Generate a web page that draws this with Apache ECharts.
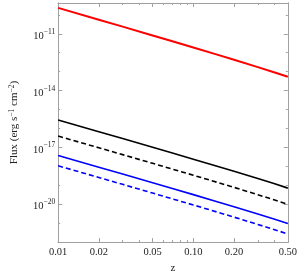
<!DOCTYPE html>
<html>
<head>
<meta charset="utf-8">
<script src="https://cdn.jsdelivr.net/npm/echarts@6/dist/echarts.min.js"></script>
<style>
html,body{margin:0;padding:0;background:#fff;}
#c{width:300px;height:279px;}
</style>
</head>
<body>
<div id="c"></div>
<script>
// Redshift sample points
const z = [0.01, 0.02, 0.03, 0.05, 0.07, 0.1, 0.15, 0.2, 0.3, 0.4, 0.5];
// Flux (erg s^-1 cm^-2)
const fluxRed = [2.34e-10, 5.55e-11, 2.38e-11, 8.17e-12, 4.02e-12, 1.89e-12, 7.94e-13, 4.25e-13, 1.73e-13, 9.04e-14, 5.37e-14];
const fluxBlack = [2.82e-16, 6.78e-17, 2.94e-17, 1.02e-17, 5.06e-18, 2.40e-18, 1.02e-18, 5.48e-19, 2.26e-19, 1.19e-19, 7.08e-20];
const fluxBlackDashed = [3.98e-17, 9.57e-18, 4.15e-18, 1.44e-18, 7.14e-19, 3.40e-19, 1.44e-19, 7.74e-20, 3.19e-20, 1.67e-20, 1.00e-20];
const fluxBlue = [3.72e-18, 8.97e-19, 3.90e-19, 1.36e-19, 6.75e-20, 3.21e-20, 1.36e-20, 7.36e-21, 3.04e-21, 1.60e-21, 9.55e-22];
const fluxBlueDashed = [1.07e-18, 2.58e-19, 1.12e-19, 3.88e-20, 1.92e-20, 9.14e-21, 3.87e-21, 2.08e-21, 8.59e-22, 4.51e-22, 2.69e-22];
// Tick labels
const xTickValues = [0.01, 0.02, 0.05, 0.1, 0.2, 0.5];
const xTickLabels = ['0.01', '0.02', '0.05', '0.10', '0.20', '0.50'];
const xMinorTicks = [0.03, 0.04, 0.06, 0.07, 0.08, 0.09, 0.3, 0.4];
const yTickExponents = [-20, -17, -14, -11];
const yMinorExponents = [-22, -21, -19, -18, -16, -15, -13, -12, -10];

const L = Math.log10;
const pts = arr => z.map((zz, i) => [L(zz), L(arr[i])]);
const font = '"Liberation Serif", "DejaVu Serif", serif';
const frame = '#a0a0a0';
const xMin = L(0.01), xMax = L(0.5), yMin = -22, yMax = -9.375;

function xAxisDef(pos, vals, len, showLabel) {
  return {
    type: 'value', position: pos, min: xMin, max: xMax,
    axisLine: {show: true, lineStyle: {color: frame, width: 1}},
    splitLine: {show: false},
    axisTick: {show: true, inside: true, length: len, customValues: vals.map(L), lineStyle: {color: frame}},
    axisLabel: showLabel ? {
      show: true, customValues: xTickValues.map(L), margin: 5,
      fontFamily: font, fontSize: 10.5, color: '#222',
      formatter: v => { const i = xTickValues.findIndex(t => Math.abs(L(t) - v) < 1e-6); return i >= 0 ? xTickLabels[i] : ''; }
    } : {show: false}
  };
}
function yAxisDef(pos, vals, len, showLabel) {
  return {
    type: 'value', position: pos, min: yMin, max: yMax,
    axisLine: {show: true, lineStyle: {color: frame, width: 1}},
    splitLine: {show: false},
    axisTick: {show: true, inside: true, length: len, customValues: vals, lineStyle: {color: frame}},
    axisLabel: showLabel ? {
      show: true, customValues: yTickExponents, margin: 3,
      fontFamily: font, fontSize: 10.5, color: '#222',
      formatter: v => '{b|10}{s|\u2212' + Math.abs(Math.round(v)) + '}',
      rich: {
        b: {fontFamily: font, fontSize: 10.5, color: '#222', verticalAlign: 'bottom', lineHeight: 16},
        s: {fontFamily: font, fontSize: 7.5, color: '#222', verticalAlign: 'bottom', lineHeight: 16, padding: [0, 0, 6, 0]}
      }
    } : {show: false},
    name: showLabel ? 'Flux (erg s{s|\u22121} cm{s|\u22122})' : '',
    nameLocation: 'middle', nameGap: 30, nameRotate: 90,
    nameTextStyle: {
      fontFamily: font, fontSize: 11, color: '#222',
      rich: {s: {fontFamily: font, fontSize: 7.5, color: '#222', verticalAlign: 'bottom', lineHeight: 16, padding: [0, 0, 6, 0]}}
    }
  };
}

const xa0 = xAxisDef('bottom', xTickValues, 4, true);
xa0.name = 'z';
xa0.nameLocation = 'middle';
xa0.nameGap = 18;
xa0.nameTextStyle = {fontFamily: font, fontSize: 11, color: '#222'};

function line(data, color, dashed, width) {
  return {
    type: 'line', data: pts(data), smooth: false, showSymbol: false, symbol: 'none',
    xAxisIndex: 0, yAxisIndex: 0,
    lineStyle: {color: color, width: width, type: dashed ? [5, 3] : 'solid'},
    animation: false
  };
}

const chart = echarts.init(document.getElementById('c'), null, {renderer: 'canvas'});
chart.setOption({
  animation: false,
  grid: {left: 43, top: 3, width: 249, height: 248, containLabel: false},
  xAxis: [xa0, xAxisDef('top', xTickValues, 4, false), xAxisDef('bottom', xMinorTicks, 2, false), xAxisDef('top', xMinorTicks, 2, false)],
  yAxis: [yAxisDef('left', yTickExponents, 4, true), yAxisDef('right', yTickExponents, 4, false), yAxisDef('left', yMinorExponents, 2, false), yAxisDef('right', yMinorExponents, 2, false)],
  series: [
    line(fluxRed, '#ff0000', false, 2),
    line(fluxBlack, '#000000', false, 1.6),
    line(fluxBlackDashed, '#000000', true, 1.6),
    line(fluxBlue, '#0000ff', false, 1.6),
    line(fluxBlueDashed, '#0000ff', true, 1.6)
  ]
});
</script>
</body>
</html>
